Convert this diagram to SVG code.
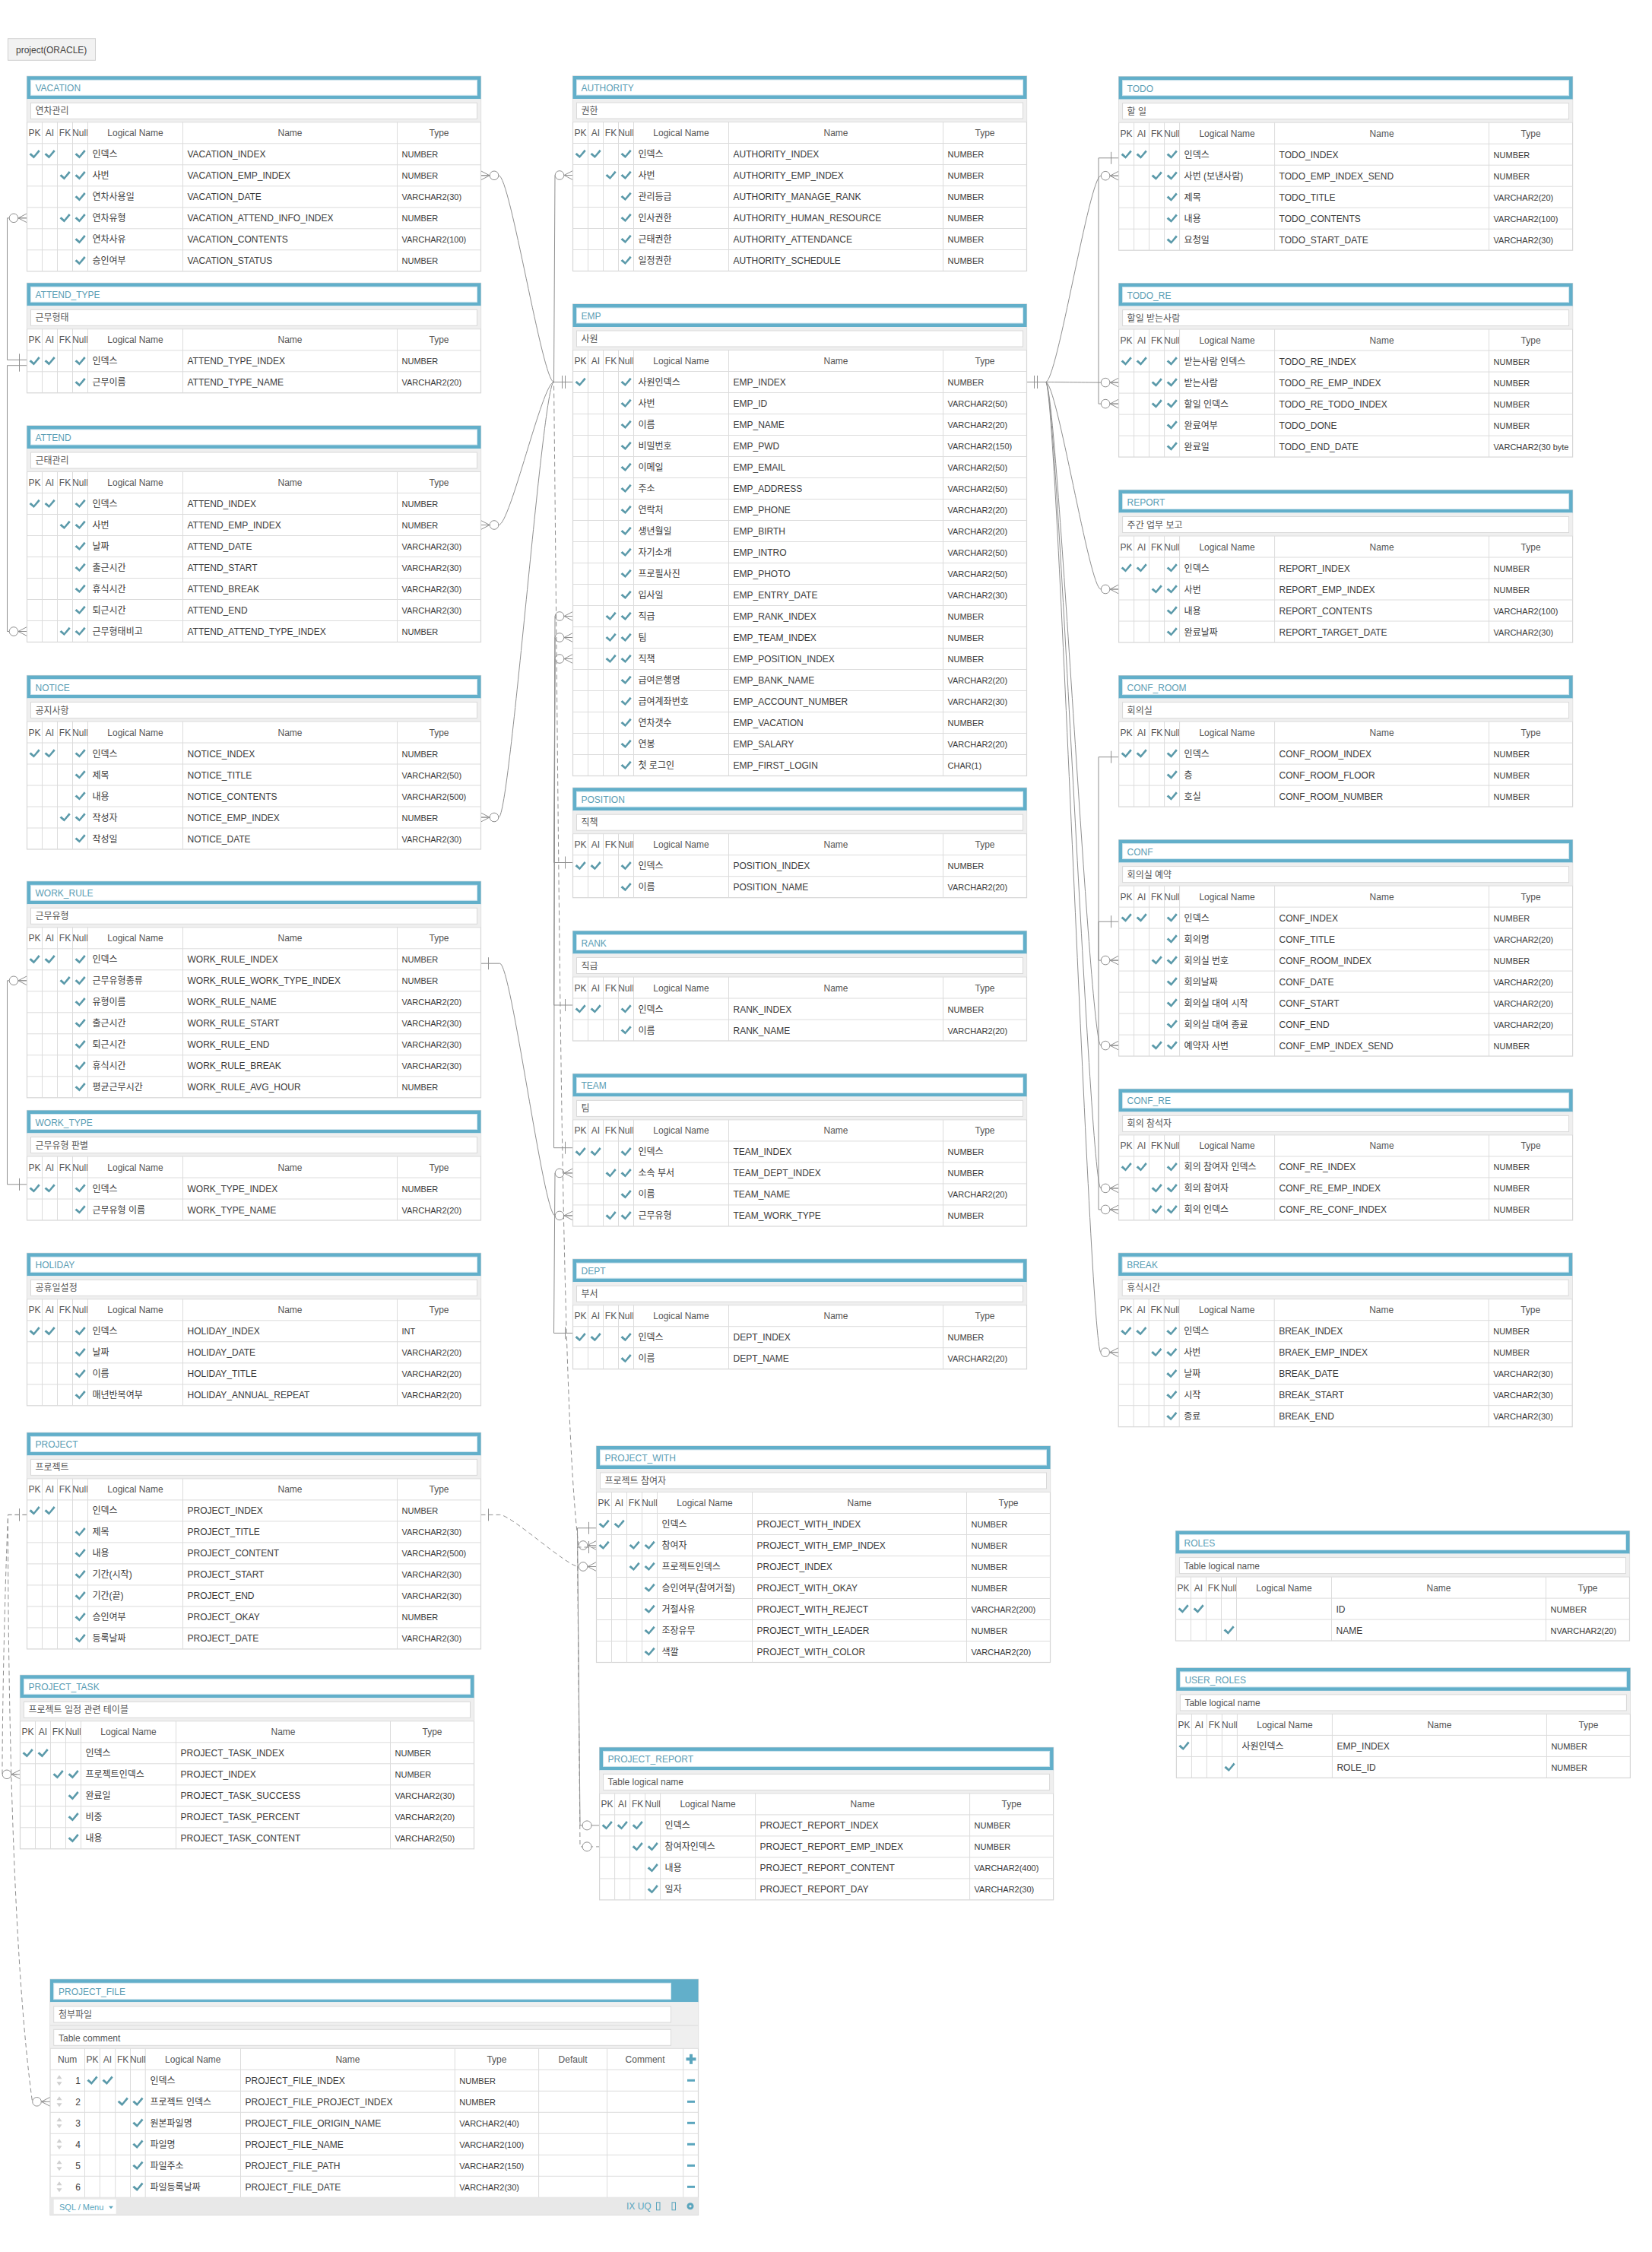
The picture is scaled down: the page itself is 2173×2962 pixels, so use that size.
<svg xmlns="http://www.w3.org/2000/svg" width="2173" height="2962" viewBox="0 0 2173 2962" font-family="'Liberation Sans','Noto Sans CJK KR',sans-serif">
<style>
.fr{fill:#fff;stroke:#d6d6d6;stroke-width:1.2}
.tb{fill:#62afca}
.ti{fill:#fff;stroke:#d3e6ee;stroke-width:1}
.tt{font-size:12px;fill:#5a9db4}
.cb{fill:#efefef}
.ci{fill:#fff;stroke:#d9d9d9;stroke-width:1}
.ct{font-size:12px;fill:#555}
.h text{font-size:12px;fill:#555;text-anchor:middle}
.gl{stroke:#dcdcdc;stroke-width:1;fill:none}
.r{font-size:12px;fill:#3a3a3a}
.y{font-size:11px;fill:#3a3a3a}
.cn path{stroke:#8f8f8f;stroke-width:1;fill:none}
.cn path.d{stroke-dasharray:6 4}
.mk{stroke:#8f8f8f;stroke-width:1;fill:none}
.tl{fill:#5aa5bd}
</style>
<defs>
<path id="ck" d="M-7,0.5L-4.8,-1.6L-1,2L5.2,-5.8L7.2,-3.8L-1,5.6Z" fill="#5b9aaa"/>
<g id="hd" class="h"><text x="10" y="79">PK</text><text x="30" y="79">AI</text><text x="50" y="79">FK</text><text x="70" y="79">Null</text><text x="142.5" y="79">Logical Name</text><text x="346" y="79">Name</text><text x="542" y="79">Type</text></g>
<g id="top"><rect class="tb" width="597" height="30"/><rect class="ti" x="5" y="5" width="587" height="20"/><rect class="cb" y="30" width="597" height="30.5"/><rect class="ci" x="5" y="35" width="587" height="21"/><use href="#hd"/></g>
<path id="g2" class="gl" d="M0,60.5H597M0,88.5H597M0,116.5H597M20,60.5V144.5M40,60.5V144.5M60,60.5V144.5M80,60.5V144.5M205,60.5V144.5M487,60.5V144.5"/>
<path id="g3" class="gl" d="M0,60.5H597M0,88.5H597M0,116.5H597M0,144.5H597M20,60.5V172.5M40,60.5V172.5M60,60.5V172.5M80,60.5V172.5M205,60.5V172.5M487,60.5V172.5"/>
<path id="g4" class="gl" d="M0,60.5H597M0,88.5H597M0,116.5H597M0,144.5H597M0,172.5H597M20,60.5V200.5M40,60.5V200.5M60,60.5V200.5M80,60.5V200.5M205,60.5V200.5M487,60.5V200.5"/>
<path id="g5" class="gl" d="M0,60.5H597M0,88.5H597M0,116.5H597M0,144.5H597M0,172.5H597M0,200.5H597M20,60.5V228.5M40,60.5V228.5M60,60.5V228.5M80,60.5V228.5M205,60.5V228.5M487,60.5V228.5"/>
<path id="g6" class="gl" d="M0,60.5H597M0,88.5H597M0,116.5H597M0,144.5H597M0,172.5H597M0,200.5H597M0,228.5H597M20,60.5V256.5M40,60.5V256.5M60,60.5V256.5M80,60.5V256.5M205,60.5V256.5M487,60.5V256.5"/>
<path id="g7" class="gl" d="M0,60.5H597M0,88.5H597M0,116.5H597M0,144.5H597M0,172.5H597M0,200.5H597M0,228.5H597M0,256.5H597M20,60.5V284.5M40,60.5V284.5M60,60.5V284.5M80,60.5V284.5M205,60.5V284.5M487,60.5V284.5"/>
<path id="g19" class="gl" d="M0,60.5H597M0,88.5H597M0,116.5H597M0,144.5H597M0,172.5H597M0,200.5H597M0,228.5H597M0,256.5H597M0,284.5H597M0,312.5H597M0,340.5H597M0,368.5H597M0,396.5H597M0,424.5H597M0,452.5H597M0,480.5H597M0,508.5H597M0,536.5H597M0,564.5H597M0,592.5H597M20,60.5V620.5M40,60.5V620.5M60,60.5V620.5M80,60.5V620.5M205,60.5V620.5M487,60.5V620.5"/>
<marker id="mO" markerUnits="userSpaceOnUse" orient="auto-start-reverse" markerWidth="40" markerHeight="40" refX="0" refY="0" style="overflow:visible"><path class="mk" d="M0,-6L-11.5,0L0,6M0,0H-11.5"/><circle class="mk" cx="-17.5" cy="0" r="5.8" style="fill:#fff"/></marker>
<marker id="m1" markerUnits="userSpaceOnUse" orient="auto-start-reverse" markerWidth="40" markerHeight="40" refX="0" refY="0" style="overflow:visible"><path class="mk" d="M-10,-8V8"/></marker>
<marker id="m11" markerUnits="userSpaceOnUse" orient="auto-start-reverse" markerWidth="40" markerHeight="40" refX="0" refY="0" style="overflow:visible"><path class="mk" d="M-10,-8V8M-14,-8V8"/></marker>
<marker id="m01" markerUnits="userSpaceOnUse" orient="auto-start-reverse" markerWidth="40" markerHeight="40" refX="0" refY="0" style="overflow:visible"><circle class="mk" cx="-16.5" cy="0" r="6" style="fill:#fff"/></marker>
</defs>
<rect width="2173" height="2962" fill="#fff"/>
<g id="label"><rect x="10.5" y="50.7" width="115" height="28.6" fill="#f2f2f2" stroke="#cfcfcf"/><text x="21" y="69.5" font-size="12" fill="#444">project(ORACLE)</text></g>

<g id="connectors" class="cn">
<path d="M632.5,230.8H656C671,230.8 713.5,502.5 728.5,502.5H753.5" marker-start="url(#mO)" marker-end="url(#m11)"/>
<path d="M632.5,690.5H656C671,690.5 713.5,502.5 728.5,502.5H753.5" marker-start="url(#mO)" marker-end="url(#m11)"/>
<path d="M632.5,1075H656C671,1075 713.5,502.5 728.5,502.5H753.5" marker-start="url(#mO)" marker-end="url(#m11)"/>
<path d="M753.5,230.5H730L728.5,502.5H753.5" marker-start="url(#mO)" marker-end="url(#m11)"/>
<path d="M753.5,810.5H730L728.5,1322H753.5" marker-start="url(#mO)" marker-end="url(#m1)"/>
<path d="M753.5,838.5H730L728.5,1509.7H753.5" marker-start="url(#mO)" marker-end="url(#m1)"/>
<path d="M753.5,866.5H730L728.5,1134.5H753.5" marker-start="url(#mO)" marker-end="url(#m1)"/>
<path d="M753.5,1542.9H730L728.5,1753.4H753.5" marker-start="url(#mO)" marker-end="url(#m1)"/>
<path d="M632.5,1267.2H657.5C672.5,1267.2 715,1598.9 730,1598.9H753.5" marker-start="url(#m1)" marker-end="url(#mO)"/>
<path d="M35.5,286.8H9.5V473.3H35.5" marker-start="url(#mO)" marker-end="url(#m1)"/>
<path d="M35.5,830.5H9.5V480.7H35.5" marker-start="url(#mO)" marker-end="url(#m1)"/>
<path d="M35.5,1289.8H9.5V1557.8H35.5" marker-start="url(#mO)" marker-end="url(#m1)"/>
<path d="M1350.5,502.5H1375.5C1390.5,502.5 1433,231.2 1448,231.2H1471.6" marker-start="url(#m11)" marker-end="url(#mO)"/>
<path d="M1350.5,502.5H1375.5C1390.5,502.5 1433,503.1 1448,503.1H1471.6" marker-start="url(#m11)" marker-end="url(#mO)"/>
<path d="M1350.5,502.5H1375.5C1390.5,502.5 1433,775 1448,775H1471.6" marker-start="url(#m11)" marker-end="url(#mO)"/>
<path d="M1350.5,502.5H1375.5C1390.5,502.5 1433,1375.1 1448,1375.1H1471.6" marker-start="url(#m11)" marker-end="url(#mO)"/>
<path d="M1350.5,502.5H1375.5C1390.5,502.5 1433,1562.9 1448,1562.9H1471.6" marker-start="url(#m11)" marker-end="url(#mO)"/>
<path d="M1350.5,502.5H1375.5C1390.5,502.5 1433,1778.7 1448,1778.7H1471.2" marker-start="url(#m11)" marker-end="url(#mO)"/>
<path d="M1471.6,531.1H1445V207.8H1471.6" marker-start="url(#mO)" marker-end="url(#m1)"/>
<path d="M1471.6,1263.1H1445V995.7H1471.6" marker-start="url(#mO)" marker-end="url(#m1)"/>
<path d="M1471.6,1590.9H1445V1212.2H1471.6" marker-start="url(#mO)" marker-end="url(#m1)"/>
<path class="d" d="M35.5,1992.4H10.5C6,2100 3,2250 3,2333.8H26.5" marker-start="url(#m1)" marker-end="url(#mO)"/>
<path class="d" d="M35.5,1992.4H10.5C10.5,2300 20,2600 42.5,2764.3H66" marker-start="url(#m1)" marker-end="url(#mO)"/>
<path class="d" d="M632.5,1992.4H657.5C672.5,1992.4 746,2060.5 761,2060.5H784.5" marker-start="url(#m1)" marker-end="url(#mO)"/>
<path class="d" d="M753.5,502.5H728.5C736,1200 738,1850 761,2032.5H784.5" marker-start="url(#m11)" marker-end="url(#mO)"/>
<path d="M784.5,2009.8H759.5L763,2400.9H788.6" marker-start="url(#m1)" marker-end="url(#m01)"/>
<path class="d" d="M784.5,2035H759.5L763,2428.9H788.6" marker-start="url(#m1)" marker-end="url(#m01)"/>
</g>

<g id="t-vacation" transform="translate(35.5,100.3)">
<rect class="fr" width="597" height="256.5"/><use href="#top"/><use href="#g6"/>
<text class="tt" x="11" y="20">VACATION</text><text class="ct" x="11" y="50">연차관리</text>
<use href="#ck" x="10" y="102.5"/><use href="#ck" x="30" y="102.5"/><use href="#ck" x="70" y="102.5"/><text class="r" x="86" y="107">인덱스</text><text class="r" x="211" y="107">VACATION_INDEX</text><text class="y" x="493" y="107">NUMBER</text>
<use href="#ck" x="50" y="130.5"/><use href="#ck" x="70" y="130.5"/><text class="r" x="86" y="135">사번</text><text class="r" x="211" y="135">VACATION_EMP_INDEX</text><text class="y" x="493" y="135">NUMBER</text>
<use href="#ck" x="70" y="158.5"/><text class="r" x="86" y="163">연차사용일</text><text class="r" x="211" y="163">VACATION_DATE</text><text class="y" x="493" y="163">VARCHAR2(30)</text>
<use href="#ck" x="50" y="186.5"/><use href="#ck" x="70" y="186.5"/><text class="r" x="86" y="191">연차유형</text><text class="r" x="211" y="191">VACATION_ATTEND_INFO_INDEX</text><text class="y" x="493" y="191">NUMBER</text>
<use href="#ck" x="70" y="214.5"/><text class="r" x="86" y="219">연차사유</text><text class="r" x="211" y="219">VACATION_CONTENTS</text><text class="y" x="493" y="219">VARCHAR2(100)</text>
<use href="#ck" x="70" y="242.5"/><text class="r" x="86" y="247">승인여부</text><text class="r" x="211" y="247">VACATION_STATUS</text><text class="y" x="493" y="247">NUMBER</text>
</g>

<g id="t-attend_type" transform="translate(35.5,372.3)">
<rect class="fr" width="597" height="144.5"/><use href="#top"/><use href="#g2"/>
<text class="tt" x="11" y="20">ATTEND_TYPE</text><text class="ct" x="11" y="50">근무형태</text>
<use href="#ck" x="10" y="102.5"/><use href="#ck" x="30" y="102.5"/><use href="#ck" x="70" y="102.5"/><text class="r" x="86" y="107">인덱스</text><text class="r" x="211" y="107">ATTEND_TYPE_INDEX</text><text class="y" x="493" y="107">NUMBER</text>
<use href="#ck" x="70" y="130.5"/><text class="r" x="86" y="135">근무이름</text><text class="r" x="211" y="135">ATTEND_TYPE_NAME</text><text class="y" x="493" y="135">VARCHAR2(20)</text>
</g>

<g id="t-attend" transform="translate(35.5,560)">
<rect class="fr" width="597" height="284.5"/><use href="#top"/><use href="#g7"/>
<text class="tt" x="11" y="20">ATTEND</text><text class="ct" x="11" y="50">근태관리</text>
<use href="#ck" x="10" y="102.5"/><use href="#ck" x="30" y="102.5"/><use href="#ck" x="70" y="102.5"/><text class="r" x="86" y="107">인덱스</text><text class="r" x="211" y="107">ATTEND_INDEX</text><text class="y" x="493" y="107">NUMBER</text>
<use href="#ck" x="50" y="130.5"/><use href="#ck" x="70" y="130.5"/><text class="r" x="86" y="135">사번</text><text class="r" x="211" y="135">ATTEND_EMP_INDEX</text><text class="y" x="493" y="135">NUMBER</text>
<use href="#ck" x="70" y="158.5"/><text class="r" x="86" y="163">날짜</text><text class="r" x="211" y="163">ATTEND_DATE</text><text class="y" x="493" y="163">VARCHAR2(30)</text>
<use href="#ck" x="70" y="186.5"/><text class="r" x="86" y="191">출근시간</text><text class="r" x="211" y="191">ATTEND_START</text><text class="y" x="493" y="191">VARCHAR2(30)</text>
<use href="#ck" x="70" y="214.5"/><text class="r" x="86" y="219">휴식시간</text><text class="r" x="211" y="219">ATTEND_BREAK</text><text class="y" x="493" y="219">VARCHAR2(30)</text>
<use href="#ck" x="70" y="242.5"/><text class="r" x="86" y="247">퇴근시간</text><text class="r" x="211" y="247">ATTEND_END</text><text class="y" x="493" y="247">VARCHAR2(30)</text>
<use href="#ck" x="50" y="270.5"/><use href="#ck" x="70" y="270.5"/><text class="r" x="86" y="275">근무형태비고</text><text class="r" x="211" y="275">ATTEND_ATTEND_TYPE_INDEX</text><text class="y" x="493" y="275">NUMBER</text>
</g>

<g id="t-notice" transform="translate(35.5,888.5)">
<rect class="fr" width="597" height="228.5"/><use href="#top"/><use href="#g5"/>
<text class="tt" x="11" y="20">NOTICE</text><text class="ct" x="11" y="50">공지사항</text>
<use href="#ck" x="10" y="102.5"/><use href="#ck" x="30" y="102.5"/><use href="#ck" x="70" y="102.5"/><text class="r" x="86" y="107">인덱스</text><text class="r" x="211" y="107">NOTICE_INDEX</text><text class="y" x="493" y="107">NUMBER</text>
<use href="#ck" x="70" y="130.5"/><text class="r" x="86" y="135">제목</text><text class="r" x="211" y="135">NOTICE_TITLE</text><text class="y" x="493" y="135">VARCHAR2(50)</text>
<use href="#ck" x="70" y="158.5"/><text class="r" x="86" y="163">내용</text><text class="r" x="211" y="163">NOTICE_CONTENTS</text><text class="y" x="493" y="163">VARCHAR2(500)</text>
<use href="#ck" x="50" y="186.5"/><use href="#ck" x="70" y="186.5"/><text class="r" x="86" y="191">작성자</text><text class="r" x="211" y="191">NOTICE_EMP_INDEX</text><text class="y" x="493" y="191">NUMBER</text>
<use href="#ck" x="70" y="214.5"/><text class="r" x="86" y="219">작성일</text><text class="r" x="211" y="219">NOTICE_DATE</text><text class="y" x="493" y="219">VARCHAR2(30)</text>
</g>

<g id="t-work_rule" transform="translate(35.5,1159.3)">
<rect class="fr" width="597" height="284.5"/><use href="#top"/><use href="#g7"/>
<text class="tt" x="11" y="20">WORK_RULE</text><text class="ct" x="11" y="50">근무유형</text>
<use href="#ck" x="10" y="102.5"/><use href="#ck" x="30" y="102.5"/><use href="#ck" x="70" y="102.5"/><text class="r" x="86" y="107">인덱스</text><text class="r" x="211" y="107">WORK_RULE_INDEX</text><text class="y" x="493" y="107">NUMBER</text>
<use href="#ck" x="50" y="130.5"/><use href="#ck" x="70" y="130.5"/><text class="r" x="86" y="135">근무유형종류</text><text class="r" x="211" y="135">WORK_RULE_WORK_TYPE_INDEX</text><text class="y" x="493" y="135">NUMBER</text>
<use href="#ck" x="70" y="158.5"/><text class="r" x="86" y="163">유형이름</text><text class="r" x="211" y="163">WORK_RULE_NAME</text><text class="y" x="493" y="163">VARCHAR2(20)</text>
<use href="#ck" x="70" y="186.5"/><text class="r" x="86" y="191">출근시간</text><text class="r" x="211" y="191">WORK_RULE_START</text><text class="y" x="493" y="191">VARCHAR2(30)</text>
<use href="#ck" x="70" y="214.5"/><text class="r" x="86" y="219">퇴근시간</text><text class="r" x="211" y="219">WORK_RULE_END</text><text class="y" x="493" y="219">VARCHAR2(30)</text>
<use href="#ck" x="70" y="242.5"/><text class="r" x="86" y="247">휴식시간</text><text class="r" x="211" y="247">WORK_RULE_BREAK</text><text class="y" x="493" y="247">VARCHAR2(30)</text>
<use href="#ck" x="70" y="270.5"/><text class="r" x="86" y="275">평균근무시간</text><text class="r" x="211" y="275">WORK_RULE_AVG_HOUR</text><text class="y" x="493" y="275">NUMBER</text>
</g>

<g id="t-work_type" transform="translate(35.5,1460.5)">
<rect class="fr" width="597" height="144.5"/><use href="#top"/><use href="#g2"/>
<text class="tt" x="11" y="20">WORK_TYPE</text><text class="ct" x="11" y="50">근무유형 판별</text>
<use href="#ck" x="10" y="102.5"/><use href="#ck" x="30" y="102.5"/><use href="#ck" x="70" y="102.5"/><text class="r" x="86" y="107">인덱스</text><text class="r" x="211" y="107">WORK_TYPE_INDEX</text><text class="y" x="493" y="107">NUMBER</text>
<use href="#ck" x="70" y="130.5"/><text class="r" x="86" y="135">근무유형 이름</text><text class="r" x="211" y="135">WORK_TYPE_NAME</text><text class="y" x="493" y="135">VARCHAR2(20)</text>
</g>

<g id="t-holiday" transform="translate(35.5,1648.3)">
<rect class="fr" width="597" height="200.5"/><use href="#top"/><use href="#g4"/>
<text class="tt" x="11" y="20">HOLIDAY</text><text class="ct" x="11" y="50">공휴일설정</text>
<use href="#ck" x="10" y="102.5"/><use href="#ck" x="30" y="102.5"/><use href="#ck" x="70" y="102.5"/><text class="r" x="86" y="107">인덱스</text><text class="r" x="211" y="107">HOLIDAY_INDEX</text><text class="y" x="493" y="107">INT</text>
<use href="#ck" x="70" y="130.5"/><text class="r" x="86" y="135">날짜</text><text class="r" x="211" y="135">HOLIDAY_DATE</text><text class="y" x="493" y="135">VARCHAR2(20)</text>
<use href="#ck" x="70" y="158.5"/><text class="r" x="86" y="163">이름</text><text class="r" x="211" y="163">HOLIDAY_TITLE</text><text class="y" x="493" y="163">VARCHAR2(20)</text>
<use href="#ck" x="70" y="186.5"/><text class="r" x="86" y="191">매년반복여부</text><text class="r" x="211" y="191">HOLIDAY_ANNUAL_REPEAT</text><text class="y" x="493" y="191">VARCHAR2(20)</text>
</g>

<g id="t-project" transform="translate(35.5,1884.4)">
<rect class="fr" width="597" height="284.5"/><use href="#top"/><use href="#g7"/>
<text class="tt" x="11" y="20">PROJECT</text><text class="ct" x="11" y="50">프로젝트</text>
<use href="#ck" x="10" y="102.5"/><use href="#ck" x="30" y="102.5"/><text class="r" x="86" y="107">인덱스</text><text class="r" x="211" y="107">PROJECT_INDEX</text><text class="y" x="493" y="107">NUMBER</text>
<use href="#ck" x="70" y="130.5"/><text class="r" x="86" y="135">제목</text><text class="r" x="211" y="135">PROJECT_TITLE</text><text class="y" x="493" y="135">VARCHAR2(30)</text>
<use href="#ck" x="70" y="158.5"/><text class="r" x="86" y="163">내용</text><text class="r" x="211" y="163">PROJECT_CONTENT</text><text class="y" x="493" y="163">VARCHAR2(500)</text>
<use href="#ck" x="70" y="186.5"/><text class="r" x="86" y="191">기간(시작)</text><text class="r" x="211" y="191">PROJECT_START</text><text class="y" x="493" y="191">VARCHAR2(30)</text>
<use href="#ck" x="70" y="214.5"/><text class="r" x="86" y="219">기간(끝)</text><text class="r" x="211" y="219">PROJECT_END</text><text class="y" x="493" y="219">VARCHAR2(30)</text>
<use href="#ck" x="70" y="242.5"/><text class="r" x="86" y="247">승인여부</text><text class="r" x="211" y="247">PROJECT_OKAY</text><text class="y" x="493" y="247">NUMBER</text>
<use href="#ck" x="70" y="270.5"/><text class="r" x="86" y="275">등록날짜</text><text class="r" x="211" y="275">PROJECT_DATE</text><text class="y" x="493" y="275">VARCHAR2(30)</text>
</g>

<g id="t-project_task" transform="translate(26.5,2203.3)">
<rect class="fr" width="597" height="228.5"/><use href="#top"/><use href="#g5"/>
<text class="tt" x="11" y="20">PROJECT_TASK</text><text class="ct" x="11" y="50">프로젝트 일정 관련 테이블</text>
<use href="#ck" x="10" y="102.5"/><use href="#ck" x="30" y="102.5"/><text class="r" x="86" y="107">인덱스</text><text class="r" x="211" y="107">PROJECT_TASK_INDEX</text><text class="y" x="493" y="107">NUMBER</text>
<use href="#ck" x="50" y="130.5"/><use href="#ck" x="70" y="130.5"/><text class="r" x="86" y="135">프로젝트인덱스</text><text class="r" x="211" y="135">PROJECT_INDEX</text><text class="y" x="493" y="135">NUMBER</text>
<use href="#ck" x="70" y="158.5"/><text class="r" x="86" y="163">완료일</text><text class="r" x="211" y="163">PROJECT_TASK_SUCCESS</text><text class="y" x="493" y="163">VARCHAR2(30)</text>
<use href="#ck" x="70" y="186.5"/><text class="r" x="86" y="191">비중</text><text class="r" x="211" y="191">PROJECT_TASK_PERCENT</text><text class="y" x="493" y="191">VARCHAR2(20)</text>
<use href="#ck" x="70" y="214.5"/><text class="r" x="86" y="219">내용</text><text class="r" x="211" y="219">PROJECT_TASK_CONTENT</text><text class="y" x="493" y="219">VARCHAR2(50)</text>
</g>

<g id="t-authority" transform="translate(753.5,100)">
<rect class="fr" width="597" height="256.5"/><use href="#top"/><use href="#g6"/>
<text class="tt" x="11" y="20">AUTHORITY</text><text class="ct" x="11" y="50">권한</text>
<use href="#ck" x="10" y="102.5"/><use href="#ck" x="30" y="102.5"/><use href="#ck" x="70" y="102.5"/><text class="r" x="86" y="107">인덱스</text><text class="r" x="211" y="107">AUTHORITY_INDEX</text><text class="y" x="493" y="107">NUMBER</text>
<use href="#ck" x="50" y="130.5"/><use href="#ck" x="70" y="130.5"/><text class="r" x="86" y="135">사번</text><text class="r" x="211" y="135">AUTHORITY_EMP_INDEX</text><text class="y" x="493" y="135">NUMBER</text>
<use href="#ck" x="70" y="158.5"/><text class="r" x="86" y="163">관리등급</text><text class="r" x="211" y="163">AUTHORITY_MANAGE_RANK</text><text class="y" x="493" y="163">NUMBER</text>
<use href="#ck" x="70" y="186.5"/><text class="r" x="86" y="191">인사권한</text><text class="r" x="211" y="191">AUTHORITY_HUMAN_RESOURCE</text><text class="y" x="493" y="191">NUMBER</text>
<use href="#ck" x="70" y="214.5"/><text class="r" x="86" y="219">근태권한</text><text class="r" x="211" y="219">AUTHORITY_ATTENDANCE</text><text class="y" x="493" y="219">NUMBER</text>
<use href="#ck" x="70" y="242.5"/><text class="r" x="86" y="247">일정권한</text><text class="r" x="211" y="247">AUTHORITY_SCHEDULE</text><text class="y" x="493" y="247">NUMBER</text>
</g>

<g id="t-emp" transform="translate(753.5,400)">
<rect class="fr" width="597" height="620.5"/><use href="#top"/><use href="#g19"/>
<text class="tt" x="11" y="20">EMP</text><text class="ct" x="11" y="50">사원</text>
<use href="#ck" x="10" y="102.5"/><use href="#ck" x="70" y="102.5"/><text class="r" x="86" y="107">사원인덱스</text><text class="r" x="211" y="107">EMP_INDEX</text><text class="y" x="493" y="107">NUMBER</text>
<use href="#ck" x="70" y="130.5"/><text class="r" x="86" y="135">사번</text><text class="r" x="211" y="135">EMP_ID</text><text class="y" x="493" y="135">VARCHAR2(50)</text>
<use href="#ck" x="70" y="158.5"/><text class="r" x="86" y="163">이름</text><text class="r" x="211" y="163">EMP_NAME</text><text class="y" x="493" y="163">VARCHAR2(20)</text>
<use href="#ck" x="70" y="186.5"/><text class="r" x="86" y="191">비밀번호</text><text class="r" x="211" y="191">EMP_PWD</text><text class="y" x="493" y="191">VARCHAR2(150)</text>
<use href="#ck" x="70" y="214.5"/><text class="r" x="86" y="219">이메일</text><text class="r" x="211" y="219">EMP_EMAIL</text><text class="y" x="493" y="219">VARCHAR2(50)</text>
<use href="#ck" x="70" y="242.5"/><text class="r" x="86" y="247">주소</text><text class="r" x="211" y="247">EMP_ADDRESS</text><text class="y" x="493" y="247">VARCHAR2(50)</text>
<use href="#ck" x="70" y="270.5"/><text class="r" x="86" y="275">연락처</text><text class="r" x="211" y="275">EMP_PHONE</text><text class="y" x="493" y="275">VARCHAR2(20)</text>
<use href="#ck" x="70" y="298.5"/><text class="r" x="86" y="303">생년월일</text><text class="r" x="211" y="303">EMP_BIRTH</text><text class="y" x="493" y="303">VARCHAR2(20)</text>
<use href="#ck" x="70" y="326.5"/><text class="r" x="86" y="331">자기소개</text><text class="r" x="211" y="331">EMP_INTRO</text><text class="y" x="493" y="331">VARCHAR2(50)</text>
<use href="#ck" x="70" y="354.5"/><text class="r" x="86" y="359">프로필사진</text><text class="r" x="211" y="359">EMP_PHOTO</text><text class="y" x="493" y="359">VARCHAR2(50)</text>
<use href="#ck" x="70" y="382.5"/><text class="r" x="86" y="387">입사일</text><text class="r" x="211" y="387">EMP_ENTRY_DATE</text><text class="y" x="493" y="387">VARCHAR2(30)</text>
<use href="#ck" x="50" y="410.5"/><use href="#ck" x="70" y="410.5"/><text class="r" x="86" y="415">직급</text><text class="r" x="211" y="415">EMP_RANK_INDEX</text><text class="y" x="493" y="415">NUMBER</text>
<use href="#ck" x="50" y="438.5"/><use href="#ck" x="70" y="438.5"/><text class="r" x="86" y="443">팀</text><text class="r" x="211" y="443">EMP_TEAM_INDEX</text><text class="y" x="493" y="443">NUMBER</text>
<use href="#ck" x="50" y="466.5"/><use href="#ck" x="70" y="466.5"/><text class="r" x="86" y="471">직책</text><text class="r" x="211" y="471">EMP_POSITION_INDEX</text><text class="y" x="493" y="471">NUMBER</text>
<use href="#ck" x="70" y="494.5"/><text class="r" x="86" y="499">급여은행명</text><text class="r" x="211" y="499">EMP_BANK_NAME</text><text class="y" x="493" y="499">VARCHAR2(20)</text>
<use href="#ck" x="70" y="522.5"/><text class="r" x="86" y="527">급여계좌번호</text><text class="r" x="211" y="527">EMP_ACCOUNT_NUMBER</text><text class="y" x="493" y="527">VARCHAR2(30)</text>
<use href="#ck" x="70" y="550.5"/><text class="r" x="86" y="555">연차갯수</text><text class="r" x="211" y="555">EMP_VACATION</text><text class="y" x="493" y="555">NUMBER</text>
<use href="#ck" x="70" y="578.5"/><text class="r" x="86" y="583">연봉</text><text class="r" x="211" y="583">EMP_SALARY</text><text class="y" x="493" y="583">VARCHAR2(20)</text>
<use href="#ck" x="70" y="606.5"/><text class="r" x="86" y="611">첫 로그인</text><text class="r" x="211" y="611">EMP_FIRST_LOGIN</text><text class="y" x="493" y="611">CHAR(1)</text>
</g>

<g id="t-position" transform="translate(753.5,1036.2)">
<rect class="fr" width="597" height="144.5"/><use href="#top"/><use href="#g2"/>
<text class="tt" x="11" y="20">POSITION</text><text class="ct" x="11" y="50">직책</text>
<use href="#ck" x="10" y="102.5"/><use href="#ck" x="30" y="102.5"/><use href="#ck" x="70" y="102.5"/><text class="r" x="86" y="107">인덱스</text><text class="r" x="211" y="107">POSITION_INDEX</text><text class="y" x="493" y="107">NUMBER</text>
<use href="#ck" x="70" y="130.5"/><text class="r" x="86" y="135">이름</text><text class="r" x="211" y="135">POSITION_NAME</text><text class="y" x="493" y="135">VARCHAR2(20)</text>
</g>

<g id="t-rank" transform="translate(753.5,1224.5)">
<rect class="fr" width="597" height="144.5"/><use href="#top"/><use href="#g2"/>
<text class="tt" x="11" y="20">RANK</text><text class="ct" x="11" y="50">직급</text>
<use href="#ck" x="10" y="102.5"/><use href="#ck" x="30" y="102.5"/><use href="#ck" x="70" y="102.5"/><text class="r" x="86" y="107">인덱스</text><text class="r" x="211" y="107">RANK_INDEX</text><text class="y" x="493" y="107">NUMBER</text>
<use href="#ck" x="70" y="130.5"/><text class="r" x="86" y="135">이름</text><text class="r" x="211" y="135">RANK_NAME</text><text class="y" x="493" y="135">VARCHAR2(20)</text>
</g>

<g id="t-team" transform="translate(753.5,1412.4)">
<rect class="fr" width="597" height="200.5"/><use href="#top"/><use href="#g4"/>
<text class="tt" x="11" y="20">TEAM</text><text class="ct" x="11" y="50">팀</text>
<use href="#ck" x="10" y="102.5"/><use href="#ck" x="30" y="102.5"/><use href="#ck" x="70" y="102.5"/><text class="r" x="86" y="107">인덱스</text><text class="r" x="211" y="107">TEAM_INDEX</text><text class="y" x="493" y="107">NUMBER</text>
<use href="#ck" x="50" y="130.5"/><use href="#ck" x="70" y="130.5"/><text class="r" x="86" y="135">소속 부서</text><text class="r" x="211" y="135">TEAM_DEPT_INDEX</text><text class="y" x="493" y="135">NUMBER</text>
<use href="#ck" x="70" y="158.5"/><text class="r" x="86" y="163">이름</text><text class="r" x="211" y="163">TEAM_NAME</text><text class="y" x="493" y="163">VARCHAR2(20)</text>
<use href="#ck" x="50" y="186.5"/><use href="#ck" x="70" y="186.5"/><text class="r" x="86" y="191">근무유형</text><text class="r" x="211" y="191">TEAM_WORK_TYPE</text><text class="y" x="493" y="191">NUMBER</text>
</g>

<g id="t-dept" transform="translate(753.5,1656.2)">
<rect class="fr" width="597" height="144.5"/><use href="#top"/><use href="#g2"/>
<text class="tt" x="11" y="20">DEPT</text><text class="ct" x="11" y="50">부서</text>
<use href="#ck" x="10" y="102.5"/><use href="#ck" x="30" y="102.5"/><use href="#ck" x="70" y="102.5"/><text class="r" x="86" y="107">인덱스</text><text class="r" x="211" y="107">DEPT_INDEX</text><text class="y" x="493" y="107">NUMBER</text>
<use href="#ck" x="70" y="130.5"/><text class="r" x="86" y="135">이름</text><text class="r" x="211" y="135">DEPT_NAME</text><text class="y" x="493" y="135">VARCHAR2(20)</text>
</g>

<g id="t-project_with" transform="translate(784.5,1902)">
<rect class="fr" width="597" height="284.5"/><use href="#top"/><use href="#g7"/>
<text class="tt" x="11" y="20">PROJECT_WITH</text><text class="ct" x="11" y="50">프로젝트 참여자</text>
<use href="#ck" x="10" y="102.5"/><use href="#ck" x="30" y="102.5"/><text class="r" x="86" y="107">인덱스</text><text class="r" x="211" y="107">PROJECT_WITH_INDEX</text><text class="y" x="493" y="107">NUMBER</text>
<use href="#ck" x="10" y="130.5"/><use href="#ck" x="50" y="130.5"/><use href="#ck" x="70" y="130.5"/><text class="r" x="86" y="135">참여자</text><text class="r" x="211" y="135">PROJECT_WITH_EMP_INDEX</text><text class="y" x="493" y="135">NUMBER</text>
<use href="#ck" x="50" y="158.5"/><use href="#ck" x="70" y="158.5"/><text class="r" x="86" y="163">프로젝트인덱스</text><text class="r" x="211" y="163">PROJECT_INDEX</text><text class="y" x="493" y="163">NUMBER</text>
<use href="#ck" x="70" y="186.5"/><text class="r" x="86" y="191">승인여부(참여거절)</text><text class="r" x="211" y="191">PROJECT_WITH_OKAY</text><text class="y" x="493" y="191">NUMBER</text>
<use href="#ck" x="70" y="214.5"/><text class="r" x="86" y="219">거절사유</text><text class="r" x="211" y="219">PROJECT_WITH_REJECT</text><text class="y" x="493" y="219">VARCHAR2(200)</text>
<use href="#ck" x="70" y="242.5"/><text class="r" x="86" y="247">조장유무</text><text class="r" x="211" y="247">PROJECT_WITH_LEADER</text><text class="y" x="493" y="247">NUMBER</text>
<use href="#ck" x="70" y="270.5"/><text class="r" x="86" y="275">색깔</text><text class="r" x="211" y="275">PROJECT_WITH_COLOR</text><text class="y" x="493" y="275">VARCHAR2(20)</text>
</g>

<g id="t-project_report" transform="translate(788.6,2298.4)">
<rect class="fr" width="597" height="200.5"/><use href="#top"/><use href="#g4"/>
<text class="tt" x="11" y="20">PROJECT_REPORT</text><text class="ct" x="11" y="50">Table logical name</text>
<use href="#ck" x="10" y="102.5"/><use href="#ck" x="30" y="102.5"/><use href="#ck" x="50" y="102.5"/><text class="r" x="86" y="107">인덱스</text><text class="r" x="211" y="107">PROJECT_REPORT_INDEX</text><text class="y" x="493" y="107">NUMBER</text>
<use href="#ck" x="50" y="130.5"/><use href="#ck" x="70" y="130.5"/><text class="r" x="86" y="135">참여자인덱스</text><text class="r" x="211" y="135">PROJECT_REPORT_EMP_INDEX</text><text class="y" x="493" y="135">NUMBER</text>
<use href="#ck" x="70" y="158.5"/><text class="r" x="86" y="163">내용</text><text class="r" x="211" y="163">PROJECT_REPORT_CONTENT</text><text class="y" x="493" y="163">VARCHAR2(400)</text>
<use href="#ck" x="70" y="186.5"/><text class="r" x="86" y="191">일자</text><text class="r" x="211" y="191">PROJECT_REPORT_DAY</text><text class="y" x="493" y="191">VARCHAR2(30)</text>
</g>

<g id="t-todo" transform="translate(1471.6,100.7)">
<rect class="fr" width="597" height="228.5"/><use href="#top"/><use href="#g5"/>
<text class="tt" x="11" y="20">TODO</text><text class="ct" x="11" y="50">할 일</text>
<use href="#ck" x="10" y="102.5"/><use href="#ck" x="30" y="102.5"/><use href="#ck" x="70" y="102.5"/><text class="r" x="86" y="107">인덱스</text><text class="r" x="211" y="107">TODO_INDEX</text><text class="y" x="493" y="107">NUMBER</text>
<use href="#ck" x="50" y="130.5"/><use href="#ck" x="70" y="130.5"/><text class="r" x="86" y="135">사번 (보낸사람)</text><text class="r" x="211" y="135">TODO_EMP_INDEX_SEND</text><text class="y" x="493" y="135">NUMBER</text>
<use href="#ck" x="70" y="158.5"/><text class="r" x="86" y="163">제목</text><text class="r" x="211" y="163">TODO_TITLE</text><text class="y" x="493" y="163">VARCHAR2(20)</text>
<use href="#ck" x="70" y="186.5"/><text class="r" x="86" y="191">내용</text><text class="r" x="211" y="191">TODO_CONTENTS</text><text class="y" x="493" y="191">VARCHAR2(100)</text>
<use href="#ck" x="70" y="214.5"/><text class="r" x="86" y="219">요청일</text><text class="r" x="211" y="219">TODO_START_DATE</text><text class="y" x="493" y="219">VARCHAR2(30)</text>
</g>

<g id="t-todo_re" transform="translate(1471.6,372.6)">
<rect class="fr" width="597" height="228.5"/><use href="#top"/><use href="#g5"/>
<text class="tt" x="11" y="20">TODO_RE</text><text class="ct" x="11" y="50">할일 받는사람</text>
<use href="#ck" x="10" y="102.5"/><use href="#ck" x="30" y="102.5"/><use href="#ck" x="70" y="102.5"/><text class="r" x="86" y="107">받는사람 인덱스</text><text class="r" x="211" y="107">TODO_RE_INDEX</text><text class="y" x="493" y="107">NUMBER</text>
<use href="#ck" x="50" y="130.5"/><use href="#ck" x="70" y="130.5"/><text class="r" x="86" y="135">받는사람</text><text class="r" x="211" y="135">TODO_RE_EMP_INDEX</text><text class="y" x="493" y="135">NUMBER</text>
<use href="#ck" x="50" y="158.5"/><use href="#ck" x="70" y="158.5"/><text class="r" x="86" y="163">할일 인덱스</text><text class="r" x="211" y="163">TODO_RE_TODO_INDEX</text><text class="y" x="493" y="163">NUMBER</text>
<use href="#ck" x="70" y="186.5"/><text class="r" x="86" y="191">완료여부</text><text class="r" x="211" y="191">TODO_DONE</text><text class="y" x="493" y="191">NUMBER</text>
<use href="#ck" x="70" y="214.5"/><text class="r" x="86" y="219">완료일</text><text class="r" x="211" y="219">TODO_END_DATE</text><text class="y" x="493" y="219">VARCHAR2(30 byte</text>
</g>

<g id="t-report" transform="translate(1471.6,644.5)">
<rect class="fr" width="597" height="200.5"/><use href="#top"/><use href="#g4"/>
<text class="tt" x="11" y="20">REPORT</text><text class="ct" x="11" y="50">주간 업무 보고</text>
<use href="#ck" x="10" y="102.5"/><use href="#ck" x="30" y="102.5"/><use href="#ck" x="70" y="102.5"/><text class="r" x="86" y="107">인덱스</text><text class="r" x="211" y="107">REPORT_INDEX</text><text class="y" x="493" y="107">NUMBER</text>
<use href="#ck" x="50" y="130.5"/><use href="#ck" x="70" y="130.5"/><text class="r" x="86" y="135">사번</text><text class="r" x="211" y="135">REPORT_EMP_INDEX</text><text class="y" x="493" y="135">NUMBER</text>
<use href="#ck" x="70" y="158.5"/><text class="r" x="86" y="163">내용</text><text class="r" x="211" y="163">REPORT_CONTENTS</text><text class="y" x="493" y="163">VARCHAR2(100)</text>
<use href="#ck" x="70" y="186.5"/><text class="r" x="86" y="191">완료날짜</text><text class="r" x="211" y="191">REPORT_TARGET_DATE</text><text class="y" x="493" y="191">VARCHAR2(30)</text>
</g>

<g id="t-conf_room" transform="translate(1471.6,888.6)">
<rect class="fr" width="597" height="172.5"/><use href="#top"/><use href="#g3"/>
<text class="tt" x="11" y="20">CONF_ROOM</text><text class="ct" x="11" y="50">회의실</text>
<use href="#ck" x="10" y="102.5"/><use href="#ck" x="30" y="102.5"/><use href="#ck" x="70" y="102.5"/><text class="r" x="86" y="107">인덱스</text><text class="r" x="211" y="107">CONF_ROOM_INDEX</text><text class="y" x="493" y="107">NUMBER</text>
<use href="#ck" x="70" y="130.5"/><text class="r" x="86" y="135">층</text><text class="r" x="211" y="135">CONF_ROOM_FLOOR</text><text class="y" x="493" y="135">NUMBER</text>
<use href="#ck" x="70" y="158.5"/><text class="r" x="86" y="163">호실</text><text class="r" x="211" y="163">CONF_ROOM_NUMBER</text><text class="y" x="493" y="163">NUMBER</text>
</g>

<g id="t-conf" transform="translate(1471.6,1104.6)">
<rect class="fr" width="597" height="284.5"/><use href="#top"/><use href="#g7"/>
<text class="tt" x="11" y="20">CONF</text><text class="ct" x="11" y="50">회의실 예약</text>
<use href="#ck" x="10" y="102.5"/><use href="#ck" x="30" y="102.5"/><use href="#ck" x="70" y="102.5"/><text class="r" x="86" y="107">인덱스</text><text class="r" x="211" y="107">CONF_INDEX</text><text class="y" x="493" y="107">NUMBER</text>
<use href="#ck" x="70" y="130.5"/><text class="r" x="86" y="135">회의명</text><text class="r" x="211" y="135">CONF_TITLE</text><text class="y" x="493" y="135">VARCHAR2(20)</text>
<use href="#ck" x="50" y="158.5"/><use href="#ck" x="70" y="158.5"/><text class="r" x="86" y="163">회의실 번호</text><text class="r" x="211" y="163">CONF_ROOM_INDEX</text><text class="y" x="493" y="163">NUMBER</text>
<use href="#ck" x="70" y="186.5"/><text class="r" x="86" y="191">회의날짜</text><text class="r" x="211" y="191">CONF_DATE</text><text class="y" x="493" y="191">VARCHAR2(20)</text>
<use href="#ck" x="70" y="214.5"/><text class="r" x="86" y="219">회의실 대여 시작</text><text class="r" x="211" y="219">CONF_START</text><text class="y" x="493" y="219">VARCHAR2(20)</text>
<use href="#ck" x="70" y="242.5"/><text class="r" x="86" y="247">회의실 대여 종료</text><text class="r" x="211" y="247">CONF_END</text><text class="y" x="493" y="247">VARCHAR2(20)</text>
<use href="#ck" x="50" y="270.5"/><use href="#ck" x="70" y="270.5"/><text class="r" x="86" y="275">예약자 사번</text><text class="r" x="211" y="275">CONF_EMP_INDEX_SEND</text><text class="y" x="493" y="275">NUMBER</text>
</g>

<g id="t-conf_re" transform="translate(1471.6,1432.4)">
<rect class="fr" width="597" height="172.5"/><use href="#top"/><use href="#g3"/>
<text class="tt" x="11" y="20">CONF_RE</text><text class="ct" x="11" y="50">회의 참석자</text>
<use href="#ck" x="10" y="102.5"/><use href="#ck" x="30" y="102.5"/><use href="#ck" x="70" y="102.5"/><text class="r" x="86" y="107">회의 참여자 인덱스</text><text class="r" x="211" y="107">CONF_RE_INDEX</text><text class="y" x="493" y="107">NUMBER</text>
<use href="#ck" x="50" y="130.5"/><use href="#ck" x="70" y="130.5"/><text class="r" x="86" y="135">회의 참여자</text><text class="r" x="211" y="135">CONF_RE_EMP_INDEX</text><text class="y" x="493" y="135">NUMBER</text>
<use href="#ck" x="50" y="158.5"/><use href="#ck" x="70" y="158.5"/><text class="r" x="86" y="163">회의 인덱스</text><text class="r" x="211" y="163">CONF_RE_CONF_INDEX</text><text class="y" x="493" y="163">NUMBER</text>
</g>

<g id="t-break" transform="translate(1471.2,1648.2)">
<rect class="fr" width="597" height="228.5"/><use href="#top"/><use href="#g5"/>
<text class="tt" x="11" y="20">BREAK</text><text class="ct" x="11" y="50">휴식시간</text>
<use href="#ck" x="10" y="102.5"/><use href="#ck" x="30" y="102.5"/><use href="#ck" x="70" y="102.5"/><text class="r" x="86" y="107">인덱스</text><text class="r" x="211" y="107">BREAK_INDEX</text><text class="y" x="493" y="107">NUMBER</text>
<use href="#ck" x="50" y="130.5"/><use href="#ck" x="70" y="130.5"/><text class="r" x="86" y="135">사번</text><text class="r" x="211" y="135">BRAEK_EMP_INDEX</text><text class="y" x="493" y="135">NUMBER</text>
<use href="#ck" x="70" y="158.5"/><text class="r" x="86" y="163">날짜</text><text class="r" x="211" y="163">BREAK_DATE</text><text class="y" x="493" y="163">VARCHAR2(30)</text>
<use href="#ck" x="70" y="186.5"/><text class="r" x="86" y="191">시작</text><text class="r" x="211" y="191">BREAK_START</text><text class="y" x="493" y="191">VARCHAR2(30)</text>
<use href="#ck" x="70" y="214.5"/><text class="r" x="86" y="219">종료</text><text class="r" x="211" y="219">BREAK_END</text><text class="y" x="493" y="219">VARCHAR2(30)</text>
</g>

<g id="t-roles" transform="translate(1546.5,2013.6)">
<rect class="fr" width="597" height="144.5"/><use href="#top"/><use href="#g2"/>
<text class="tt" x="11" y="20">ROLES</text><text class="ct" x="11" y="50">Table logical name</text>
<use href="#ck" x="10" y="102.5"/><use href="#ck" x="30" y="102.5"/><text class="r" x="211" y="107">ID</text><text class="y" x="493" y="107">NUMBER</text>
<use href="#ck" x="70" y="130.5"/><text class="r" x="211" y="135">NAME</text><text class="y" x="493" y="135">NVARCHAR2(20)</text>
</g>

<g id="t-user_roles" transform="translate(1547.4,2193.9)">
<rect class="fr" width="597" height="144.5"/><use href="#top"/><use href="#g2"/>
<text class="tt" x="11" y="20">USER_ROLES</text><text class="ct" x="11" y="50">Table logical name</text>
<use href="#ck" x="10" y="102.5"/><text class="r" x="86" y="107">사원인덱스</text><text class="r" x="211" y="107">EMP_INDEX</text><text class="y" x="493" y="107">NUMBER</text>
<use href="#ck" x="70" y="130.5"/><text class="r" x="211" y="135">ROLE_ID</text><text class="y" x="493" y="135">NUMBER</text>
</g>

<g id="t-project_file" transform="translate(66,2603.3)">
<rect class="fr" width="852.5" height="310"/>
<rect class="tb" width="852.5" height="30"/><rect class="ti" x="4.7" y="5" width="811.8" height="21.4"/>
<text class="tt" x="11" y="21">PROJECT_FILE</text>
<rect class="cb" y="30" width="852.5" height="61"/>
<path class="gl" d="M0,60.7H852.5"/>
<rect class="ci" x="4.7" y="35.7" width="811.8" height="21"/><text class="ct" x="11" y="51">첨부파일</text>
<rect class="ci" x="4.7" y="66" width="811.8" height="21"/><text class="ct" x="11" y="81.5">Table comment</text>
<path class="gl" d="M0,91H852.5M0,119H852.5M0,147H852.5M0,175H852.5M0,203H852.5M0,231H852.5M0,259H852.5M0,287H852.5M45.5,91V287M65.3,91V287M85.7,91V287M105.5,91V287M125.2,91V287M250.5,91V287M532.3,91V287M642.6,91V287M732.6,91V287M832.7,91V287"/>
<g class="h"><text x="22.7" y="109.5">Num</text><text x="55.4" y="109.5">PK</text><text x="75.5" y="109.5">AI</text><text x="95.6" y="109.5">FK</text><text x="115.3" y="109.5">Null</text><text x="187.8" y="109.5">Logical Name</text><text x="391.4" y="109.5">Name</text><text x="587.4" y="109.5">Type</text><text x="687.6" y="109.5">Default</text><text x="782.6" y="109.5">Comment</text></g>
<rect class="tl" x="841" y="98.5" width="4" height="13"/><rect class="tl" x="836.5" y="103" width="13" height="4"/>
<g fill="#cfcfcf"><path d="M8.5,131L15.5,131L12,126Z M8.5,135L15.5,135L12,140Z"/><path d="M8.5,159L15.5,159L12,154Z M8.5,163L15.5,163L12,168Z"/><path d="M8.5,187L15.5,187L12,182Z M8.5,191L15.5,191L12,196Z"/><path d="M8.5,215L15.5,215L12,210Z M8.5,219L15.5,219L12,224Z"/><path d="M8.5,243L15.5,243L12,238Z M8.5,247L15.5,247L12,252Z"/><path d="M8.5,271L15.5,271L12,266Z M8.5,275L15.5,275L12,280Z"/></g>
<g fill="#5aa5bd"><rect x="838" y="131.5" width="10" height="3"/><rect x="838" y="159.5" width="10" height="3"/><rect x="838" y="187.5" width="10" height="3"/><rect x="838" y="215.5" width="10" height="3"/><rect x="838" y="243.5" width="10" height="3"/><rect x="838" y="271.5" width="10" height="3"/></g>
<text class="r" x="40" y="137.5" text-anchor="end">1</text><use href="#ck" x="55.4" y="133"/><use href="#ck" x="75.5" y="133"/><text class="r" x="131.5" y="137.5">인덱스</text><text class="r" x="256.5" y="137.5">PROJECT_FILE_INDEX</text><text class="y" x="538.3" y="137.5">NUMBER</text>
<text class="r" x="40" y="165.5" text-anchor="end">2</text><use href="#ck" x="95.6" y="161"/><use href="#ck" x="115.3" y="161"/><text class="r" x="131.5" y="165.5">프로젝트 인덱스</text><text class="r" x="256.5" y="165.5">PROJECT_FILE_PROJECT_INDEX</text><text class="y" x="538.3" y="165.5">NUMBER</text>
<text class="r" x="40" y="193.5" text-anchor="end">3</text><use href="#ck" x="115.3" y="189"/><text class="r" x="131.5" y="193.5">원본파일명</text><text class="r" x="256.5" y="193.5">PROJECT_FILE_ORIGIN_NAME</text><text class="y" x="538.3" y="193.5">VARCHAR2(40)</text>
<text class="r" x="40" y="221.5" text-anchor="end">4</text><use href="#ck" x="115.3" y="217"/><text class="r" x="131.5" y="221.5">파일명</text><text class="r" x="256.5" y="221.5">PROJECT_FILE_NAME</text><text class="y" x="538.3" y="221.5">VARCHAR2(100)</text>
<text class="r" x="40" y="249.5" text-anchor="end">5</text><use href="#ck" x="115.3" y="245"/><text class="r" x="131.5" y="249.5">파일주소</text><text class="r" x="256.5" y="249.5">PROJECT_FILE_PATH</text><text class="y" x="538.3" y="249.5">VARCHAR2(150)</text>
<text class="r" x="40" y="277.5" text-anchor="end">6</text><use href="#ck" x="115.3" y="273"/><text class="r" x="131.5" y="277.5">파일등록날짜</text><text class="r" x="256.5" y="277.5">PROJECT_FILE_DATE</text><text class="y" x="538.3" y="277.5">VARCHAR2(30)</text>
<rect y="287" width="852.5" height="23" fill="#e8e8e8"/>
<rect x="4.7" y="289.5" width="82" height="19" fill="#fff"/>
<text x="12" y="303.5" font-size="11" fill="#5aa5bd">SQL / Menu</text><path d="M77,298.5H83L80,302Z" fill="#5aa5bd"/>
<text x="758" y="302.5" font-size="12" fill="#5aa5bd">IX UQ</text>
<rect x="797.5" y="293.5" width="4.5" height="10" fill="none" stroke="#5aa5bd"/><rect x="818" y="293.5" width="4.5" height="10" fill="none" stroke="#5aa5bd"/>
<circle cx="842" cy="298.5" r="4.5" fill="#5aa5bd"/><circle cx="842" cy="298.5" r="1.6" fill="#e8e8e8"/>
</g>
</svg>
